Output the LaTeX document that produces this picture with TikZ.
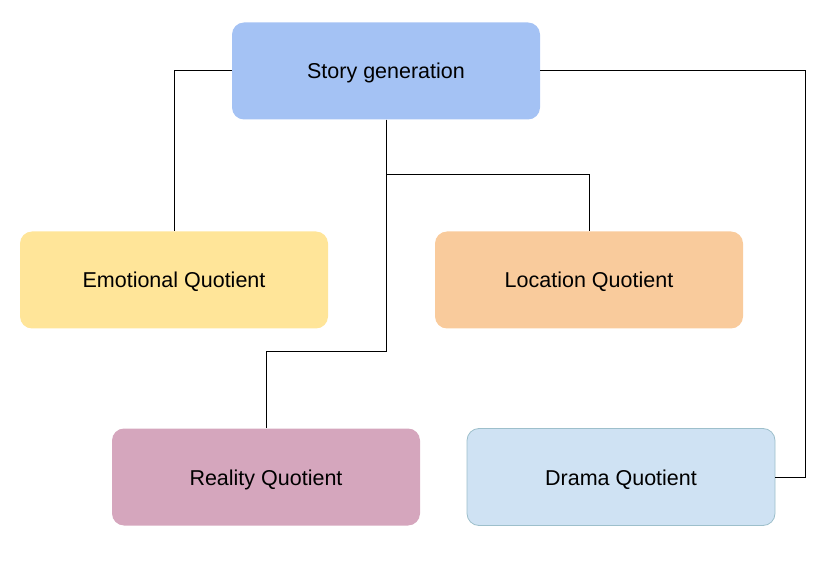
\documentclass[tikz,border=0pt]{standalone}
\usepackage{fontspec}
\setmainfont{Liberation Sans}
\definecolor{storyblue}{HTML}{A4C2F4}
\definecolor{emoyellow}{HTML}{FFE599}
\definecolor{locorange}{HTML}{F9CB9C}
\definecolor{realpink}{HTML}{D5A6BD}
\definecolor{dramablue}{HTML}{CFE2F3}
\definecolor{dramaedge}{HTML}{9DBFCB}
\begin{document}
\begin{tikzpicture}[
        x=1pt, y=-1pt,
        quot/.style={rounded corners=12pt, minimum width=308pt, minimum height=97pt,
            inner sep=0pt, text height=18pt, text depth=2pt,
            font=\fontsize{21.5}{24}\selectfont},
        storyn/.style={quot, fill=storyblue},
        emon/.style={quot, fill=emoyellow},
        locn/.style={quot, fill=locorange},
        realn/.style={quot, fill=realpink},
        draman/.style={quot, fill=dramablue, draw=dramaedge, line width=0.8pt},
        link/.style={draw, line width=1pt},
    ]
    \useasboundingbox (0,0) rectangle (833,577);
    \node[storyn](story) at (386,71){Story generation};
    \node[emon](emo) at (174,280){Emotional Quotient};
    \node[locn](loc) at (589,280){Location Quotient};
    \node[realn](real) at (266,477){Reality Quotient};
    \node[draman](drama) at (621,477){Drama Quotient};
    % connectors
    \draw[link] (story.west) -| (emo.north);
    \draw[link] (story.south) -- ++(0,55) -| (loc.north);
    \draw[link] (story.south) -- ++(0,232) -| (real.north);
    \draw[link] (story.east) -- ++(265,0) |- (drama.east);
    \end{tikzpicture}
\end{document}
